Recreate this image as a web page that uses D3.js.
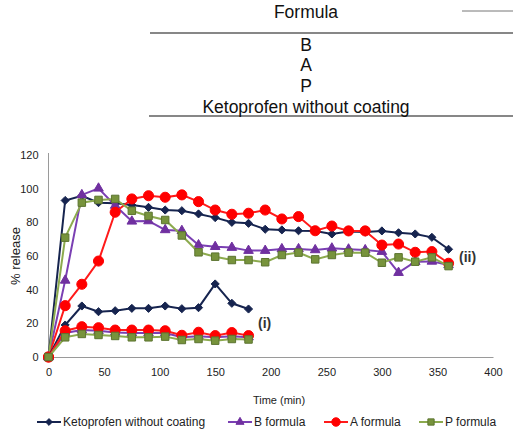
<!DOCTYPE html>
<html>
<head>
<meta charset="utf-8">
<script src="https://cdn.jsdelivr.net/npm/d3@7"></script>
<style>
  body { margin: 0; background: #fff; }
  svg { display: block; font-family: "Liberation Sans", Arial, sans-serif; }
</style>
</head>
<body>
<svg id="chart" width="513" height="432"></svg>
<script>
// table rows above the chart
const tableRows = ['B', 'A', 'P', 'Ketoprofen without coating'];

// sampling times (min)
const timesLong = d3.range(0, 361, 15);
const timesShort = d3.range(0, 181, 15);

const ketoII = [0, 93, 95.8, 91.7, 91.3, 90.3, 88.9, 87.3, 86.9, 85, 82.8, 80, 79.4, 75.9, 75.5, 75, 74.9, 73.1, 74.5, 74.2, 74.9, 73.8, 73.1, 71.1, 64];
const bII = [0, 45.5, 96.3, 100.2, 90, 80.6, 80.8, 75.5, 75, 66.5, 65.5, 65, 63.2, 63.2, 64.2, 64.2, 63.6, 64.6, 64, 63.6, 62.6, 50.1, 56.6, 56.8, 54.7];
const aII = [0, 30.5, 43.2, 57, 86, 93.9, 95.8, 94.9, 96.3, 92.3, 87.3, 84.8, 85.4, 87.3, 82, 83.4, 75, 77.8, 74.9, 74.9, 66.5, 67.1, 62.2, 62.6, 55.7];
const pII = [0, 70.9, 91.7, 93.3, 93.9, 86.9, 83.8, 81.4, 72.2, 62.2, 59.6, 57.6, 57.6, 56.3, 60.6, 62, 58, 60.6, 62, 62, 56, 59.2, 56.6, 59.2, 54];

const ketoI = [0, 19, 30.3, 26.9, 27.5, 28.9, 28.9, 30.3, 28.7, 29.3, 43.4, 31.9, 28.5];
const bI = [0, 14.3, 16, 15.6, 14.6, 14.3, 14.3, 14.3, 11.8, 12.3, 11.8, 12.3, 11.8];
const aI = [0, 15.6, 18, 17.4, 16, 16, 16, 15.6, 12.9, 14.7, 12.7, 14.5, 12.7];
const pI = [0, 11.7, 13.7, 13.1, 12.5, 11.7, 11.7, 12.1, 10.1, 10.7, 9.7, 10.7, 10.4];

const xTicks = [0, 50, 100, 150, 200, 250, 300, 350, 400];
const yTicks = [0, 20, 40, 60, 80, 100, 120];

const seriesNames = ['Ketoprofen without coating', 'B formula', 'A formula', 'P formula'];

// styles per series
const styles = {
  'Ketoprofen without coating': { line: '#16244f', fill: '#16244f', stroke: '#16244f', symbol: d3.symbolDiamond2, size: 42 },
  'B formula': { line: '#7a3fb3', fill: '#7030a0', stroke: '#7030a0', symbol: d3.symbolTriangle, size: 40 },
  'A formula': { line: '#ff1a1a', fill: '#ff0000', stroke: '#ff0000', symbol: d3.symbolCircle, size: 80 },
  'P formula': { line: '#8caa4e', fill: '#77933c', stroke: '#5c7430', symbol: d3.symbolSquare, size: 56 }
};

const series = [
  { name: 'Ketoprofen without coating', t: timesLong, v: ketoII },
  { name: 'B formula', t: timesLong, v: bII },
  { name: 'A formula', t: timesLong, v: aII },
  { name: 'P formula', t: timesLong, v: pII },
  { name: 'Ketoprofen without coating', t: timesShort, v: ketoI },
  { name: 'B formula', t: timesShort, v: bI },
  { name: 'A formula', t: timesShort, v: aI },
  { name: 'P formula', t: timesShort, v: pI }
];

const svg = d3.select('#chart');

// ---- table at the top ----
const table = svg.append('g');
table.append('text').attr('x', 306).attr('y', 12).attr('text-anchor', 'middle')
  .attr('dominant-baseline', 'central').attr('font-size', 17.5).attr('fill', '#111').text('Formula');
table.append('line').attr('x1', 462).attr('x2', 513).attr('y1', 11).attr('y2', 11)
  .attr('stroke', '#777').attr('stroke-width', 1);
table.append('line').attr('x1', 150).attr('x2', 513).attr('y1', 33).attr('y2', 33)
  .attr('stroke', '#111').attr('stroke-width', 1.2);
table.selectAll('.row').data(tableRows).join('text')
  .attr('x', 306).attr('y', (d, i) => 44.5 + i * 20.7)
  .attr('text-anchor', 'middle').attr('dominant-baseline', 'central')
  .attr('font-size', 17.5).attr('fill', '#111').text(d => d);
table.append('line').attr('x1', 149).attr('x2', 513).attr('y1', 116).attr('y2', 116)
  .attr('stroke', '#111').attr('stroke-width', 1.2);

// ---- chart ----
const x = d3.scaleLinear().domain([0, 400]).range([48.5, 493]);
const y = d3.scaleLinear().domain([0, 120]).range([357, 155]);

const xAxis = svg.append('g').attr('transform', `translate(0,${y(0)})`)
  .call(d3.axisBottom(x).tickValues(xTicks).tickSize(0).tickPadding(11));
const yAxis = svg.append('g').attr('transform', `translate(${x(0)},0)`)
  .call(d3.axisLeft(y).tickValues(yTicks).tickSize(0).tickPadding(10));
[xAxis, yAxis].forEach(a => {
  a.select('.domain').attr('stroke', '#9a9a9a').attr('stroke-width', 1);
  a.selectAll('text').attr('font-size', 11).attr('fill', '#222')
    .attr('font-family', '"Liberation Sans", Arial, sans-serif');
});
yAxis.select('.domain').attr('d', `M0,${y(120) - 2}V${y(0)}`);

svg.append('text').attr('x', 279).attr('y', 400).attr('text-anchor', 'middle')
  .attr('dominant-baseline', 'central').attr('font-size', 11).attr('fill', '#222')
  .text('Time (min)');
svg.append('text').attr('transform', 'translate(15,256) rotate(-90)')
  .attr('text-anchor', 'middle').attr('dominant-baseline', 'central')
  .attr('font-size', 13).attr('fill', '#222').text('% release');

const line = d3.line().x(d => x(d[0])).y(d => y(d[1]));
const plot = svg.append('g');
series.forEach(s => {
  const st = styles[s.name];
  const pts = s.t.map((t, i) => [t, s.v[i]]);
  const g = plot.append('g');
  g.append('path').attr('d', line(pts)).attr('fill', 'none')
    .attr('stroke', st.line).attr('stroke-width', 2);
  g.selectAll('path.m').data(pts).join('path').attr('class', 'm')
    .attr('transform', d => `translate(${x(d[0])},${y(d[1])})`)
    .attr('d', d3.symbol(st.symbol, st.size))
    .attr('fill', st.fill).attr('stroke', st.stroke).attr('stroke-width', 1);
});

svg.append('text').attr('x', 459).attr('y', 257).attr('dominant-baseline', 'central')
  .attr('font-size', 14).attr('font-weight', 'bold').attr('fill', '#333').text('(ii)');
svg.append('text').attr('x', 258).attr('y', 323).attr('dominant-baseline', 'central')
  .attr('font-size', 14).attr('font-weight', 'bold').attr('fill', '#333').text('(i)');

// ---- legend ----
const legendX = [37, 228, 324, 419];
const legend = svg.append('g');
seriesNames.forEach((name, i) => {
  const st = styles[name];
  const g = legend.append('g').attr('transform', `translate(${legendX[i]},422)`);
  g.append('line').attr('x1', 0).attr('x2', 24).attr('stroke', st.line).attr('stroke-width', 2);
  g.append('path').attr('transform', 'translate(12,0)')
    .attr('d', d3.symbol(st.symbol, st.size * 0.7))
    .attr('fill', st.fill).attr('stroke', st.stroke).attr('stroke-width', 1);
  g.append('text').attr('x', 26).attr('dominant-baseline', 'central')
    .attr('font-size', 12).attr('fill', '#222').text(name);
});
</script>
</body>
</html>
